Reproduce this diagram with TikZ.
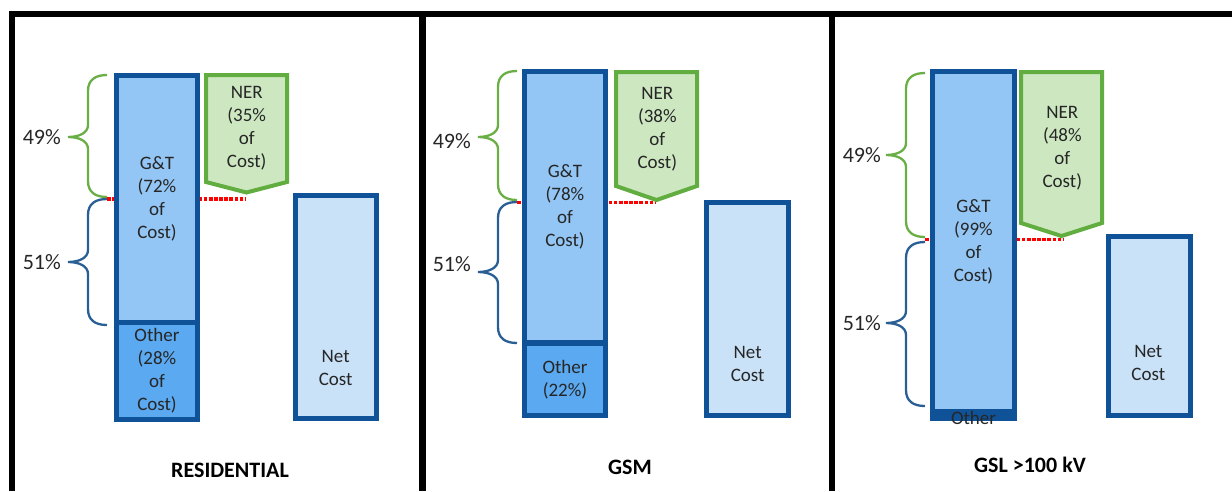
\documentclass[tikz,border=0pt]{standalone}
\usepackage{fontspec}
\setmainfont{Carlito}
\definecolor{barblue}{HTML}{0F5298}
\definecolor{gtfill}{HTML}{93C6F4}
\definecolor{otherfill}{HTML}{5BA9F0}
\definecolor{netfill}{HTML}{C9E2F8}
\definecolor{nergreen}{HTML}{62AD3F}
\definecolor{nerfill}{HTML}{CDE8C1}
\definecolor{bracegreen}{HTML}{6AAF45}
\definecolor{braceblue}{HTML}{2A5F95}
\definecolor{textgray}{HTML}{262626}
\newcommand\mybracepath[4]{(#1,#2) .. controls ({#1-12},#2) and ({#1-19},{#2+5}) .. ({#1-19},{#2+16}) -- ({#1-19},{#4-12}) .. controls ({#1-19},{#4-4}) and ({#1-28},#4) .. ({#1-39},#4) .. controls ({#1-28},#4) and ({#1-19},{#4+4}) .. ({#1-19},{#4+12}) -- ({#1-19},{#3-16}) .. controls ({#1-19},{#3-5}) and ({#1-12},#3) .. (#1,#3)}
\begin{document}
\begin{tikzpicture}[x=1pt,y=-1pt,
  bar/.style={draw=barblue, line width=5pt, inner sep=0pt, minimum width=81pt, text=textgray,
    font=\fontsize{19}{23}\selectfont, align=center},
  txt/.style={text=textgray, font=\fontsize{19}{23}\selectfont, align=center, inner sep=0pt},
  nerbox/.style={draw=nergreen, fill=nerfill, line width=4pt, line join=miter},
  pct/.style={text=textgray, font=\fontsize{22}{26}\selectfont, inner sep=0pt, anchor=east},
  title/.style={text=black, font=\bfseries\fontsize{22}{26}\selectfont, inner sep=0pt},
  reddot/.style={red, line width=3.5pt, dash pattern=on 3.5pt off 1.6pt},
  gbrace/.style={draw=bracegreen, line width=2.3pt},
  bbrace/.style={draw=braceblue, line width=2.3pt},
  frame/.style={draw=black, line width=6.5pt, line join=miter}]
\useasboundingbox (0,0) rectangle (1232,491);
% frame
\draw[frame] (12,491) -- (12,14) -- (1232,14);
\draw[frame] (422.5,14) -- (422.5,491);
\draw[frame] (832,14) -- (832,491);

% ---------- Panel 1 ----------
\coordinate (r1a) at (107,199);
\coordinate (r1b) at (246,199);
\draw[reddot] (r1a) -- (r1b);
\draw[gbrace] \mybracepath{107}{75}{197}{137};
\draw[bbrace] \mybracepath{107}{199}{325}{262};
\node[pct] (p49a) at (61,137) {49\%};
\node[pct] (p51a) at (61,262) {51\%};
\node[bar, fill=gtfill, minimum height=247pt] (gt1) at (157,198.5) {G\&T\\(72\%\\of\\Cost)};
\node[bar, fill=otherfill, minimum height=97pt] (ot1) at (157,370.5) {Other\\(28\%\\of\\Cost)};
\draw[nerbox] (206,75) -- (287,75) -- (287,182) -- (246.5,192.5) -- (206,182) -- cycle;
\node[txt] (ner1) at (246.7,128.5) {NER\\(35\%\\of\\Cost)};
\node[bar, fill=netfill, minimum height=223pt] (net1) at (336,307) {};
\node[txt] (nt1) at (335.7,367.5) {Net\\Cost};
\node[title] (t1) at (230,470) {RESIDENTIAL};

% ---------- Panel 2 ----------
\coordinate (r2a) at (517,202.5);
\coordinate (r2b) at (655,202.5);
\draw[reddot] (r2a) -- (r2b);
\draw[gbrace] \mybracepath{517}{71}{200}{137};
\draw[bbrace] \mybracepath{517}{202}{343}{272};
\node[pct] (p49b) at (471,141) {49\%};
\node[pct] (p51b) at (471,264) {51\%};
\node[bar, fill=gtfill, minimum height=271.5pt] (gt2) at (565,207.2) {G\&T\\(78\%\\of\\Cost)};
\node[bar, fill=otherfill, minimum height=72.5pt] (ot2) at (565,379.3) {Other\\(22\%)};
\draw[nerbox] (616,72) -- (697,72) -- (697,186) -- (656.5,200) -- (616,186) -- cycle;
\node[txt] (ner2) at (657.3,129.5) {NER\\(38\%\\of\\Cost)};
\node[bar, fill=netfill, minimum width=82pt, minimum height=213pt] (net2) at (747.5,309) {};
\node[txt] (nt2) at (747.7,364.2) {Net\\Cost};
\node[title] (t2) at (630,467) {GSM};

% ---------- Panel 3 ----------
\coordinate (r3a) at (925,239.5);
\coordinate (r3b) at (1063,239.5);
\draw[reddot] (r3a) -- (r3b);
\draw[gbrace] \mybracepath{925}{73}{237}{155};
\draw[bbrace] \mybracepath{925}{242}{406}{323};
\node[pct] (p49c) at (881,155) {49\%};
\node[pct] (p51c) at (881,323) {51\%};
\node[bar, fill=gtfill, minimum width=82pt, minimum height=340.5pt] (gt3) at (973.5,241.7) {G\&T\\(99\%\\of\\Cost)};
\node[bar, fill=barblue, minimum width=82pt, minimum height=6.5pt] (ot3) at (973.5,415.4) {};
\node[txt] (ot3t) at (973.5,418) {Other};
\draw[nerbox] (1021,72) -- (1102,72) -- (1102,223) -- (1061.5,236) -- (1021,223) -- cycle;
\node[txt] (ner3) at (1062.3,148) {NER\\(48\%\\of\\Cost)};
\node[bar, fill=netfill, minimum width=82pt, minimum height=179pt] (net3) at (1149.5,326) {};
\node[txt] (nt3) at (1148.3,362.8) {Net\\Cost};
\node[title] (t3) at (1030,465) {GSL >100 kV};
\end{tikzpicture}
\end{document}
